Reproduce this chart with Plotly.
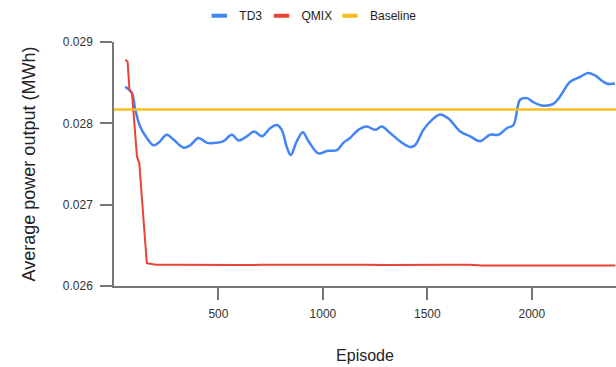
import plotly.graph_objects as go

# ---- data ----
td3_episode = [54, 86, 101, 125, 157, 189, 213, 253, 285, 333, 365, 404, 445, 492, 524,
               564, 596, 636, 671, 708, 747, 779, 803, 827, 846, 875, 904, 931, 979,
               1019, 1067, 1098, 1130, 1170, 1210, 1250, 1282, 1322, 1369, 1417, 1441,
               1481, 1521, 1561, 1601, 1657, 1705, 1752, 1800, 1840, 1880, 1912, 1944,
               1976, 2007, 2047, 2103, 2135, 2183, 2231, 2270, 2302, 2358, 2398]
td3_power = [0.02845, 0.02837, 0.02818, 0.02796, 0.02782, 0.02773, 0.02776, 0.02786,
             0.02780, 0.02770, 0.02773, 0.02782, 0.02776, 0.02776, 0.02778, 0.02786,
             0.02779, 0.02784, 0.02790, 0.02784, 0.02794, 0.02798, 0.02792, 0.02771,
             0.02761, 0.02778, 0.02789, 0.02778, 0.02763, 0.02766, 0.02767, 0.02776,
             0.02782, 0.02792, 0.02796, 0.02792, 0.02796, 0.02788, 0.02778, 0.02771,
             0.02773, 0.02792, 0.02804, 0.02811, 0.02806, 0.02790, 0.02784, 0.02778,
             0.02786, 0.02786, 0.02794, 0.02798, 0.02829, 0.02831, 0.02826, 0.02822,
             0.02824, 0.02833, 0.02851, 0.02857, 0.02862, 0.02859, 0.02849, 0.02849]

qmix_episode = [54, 65, 74, 86, 110, 121, 157, 200, 300, 400, 500, 600, 700, 800, 900,
                1000, 1100, 1200, 1300, 1400, 1500, 1600, 1700, 1760, 1900, 2100, 2400]
qmix_power = [0.02878, 0.02876, 0.02841, 0.02837, 0.02759, 0.02751, 0.02628, 0.02626,
              0.026262, 0.026258, 0.026262, 0.026258, 0.026260, 0.026262, 0.026260,
              0.026263, 0.026260, 0.026262, 0.026258, 0.026262, 0.026259, 0.026261,
              0.026262, 0.026252, 0.026252, 0.026252, 0.026252]

baseline_episode = [0, 2403]
baseline_power = [0.02817, 0.02817]

series_names = ["TD3", "QMIX", "Baseline"]
series_colors = ["#4285F4", "#EA4335", "#F9BD1C"]

x_ticks = [500, 1000, 1500, 2000]
y_ticks = [0.026, 0.027, 0.028, 0.029]

FONT = "Liberation Sans, Arial, sans-serif"

fig = go.Figure()
fig.add_trace(go.Scatter(x=td3_episode, y=td3_power, mode="lines", showlegend=False,
                         line=dict(color=series_colors[0], width=2.5, shape="spline", smoothing=1.0)))
fig.add_trace(go.Scatter(x=qmix_episode, y=qmix_power, mode="lines", showlegend=False,
                         line=dict(color=series_colors[1], width=2)))
fig.add_trace(go.Scatter(x=baseline_episode, y=baseline_power, mode="lines", showlegend=False,
                         line=dict(color=series_colors[2], width=2.5)))

# legend entries with short bar symbols, one legend each for exact placement
legend_ids = ["legend", "legend2", "legend3"]
legend_left = [(219.3 - 20) / 616, (283.5 - 2 - 20) / 616, (353 - 3 - 20) / 616]
for name, col, lid in zip(series_names, series_colors, legend_ids):
    fig.add_trace(go.Scatter(x=[None], y=[None], mode="markers", name=name, legend=lid,
                             marker=dict(symbol="line-ew-open", size=11, color=col,
                                         line=dict(color=col, width=4))))

legend_style = dict(orientation="h", xanchor="left", xref="container", yref="container",
                    y=0.957, yanchor="middle", font=dict(size=12, color="#222222"),
                    itemwidth=30, bgcolor="rgba(0,0,0,0)", borderwidth=0)

fig.update_layout(
    width=616, height=367,
    margin=dict(l=114, r=0, t=42, b=81),
    paper_bgcolor="white", plot_bgcolor="white",
    font=dict(family=FONT, size=12, color="#333333"),
    showlegend=True,
    legend=dict(x=legend_left[0], **legend_style),
    legend2=dict(x=legend_left[1], **legend_style),
    legend3=dict(x=legend_left[2], **legend_style),
)

fig.update_xaxes(range=[0, 2403], tickvals=x_ticks, ticks="outside", ticklen=12,
                 tickcolor="#777777", tickwidth=1.5, showline=True, linecolor="#777777",
                 linewidth=1.5, showgrid=False, zeroline=False, ticklabelstandoff=4,
                 tickfont=dict(size=12, color="#333333"),
                 title=dict(text="Episode", font=dict(size=16, color="#222222"), standoff=30))
fig.update_yaxes(range=[0.026, 0.029], tickvals=y_ticks, tickformat=".3f", ticks="outside",
                 ticklen=12, tickcolor="#777777", tickwidth=1.5, showline=True,
                 linecolor="#777777", linewidth=1.5, showgrid=False, zeroline=False,
                 ticklabelstandoff=5,
                 tickfont=dict(size=12, color="#333333"),
                 title=dict(text="Average power output (MWh)", font=dict(size=18, color="#222222"),
                            standoff=23))

fig.write_html("out.html")
